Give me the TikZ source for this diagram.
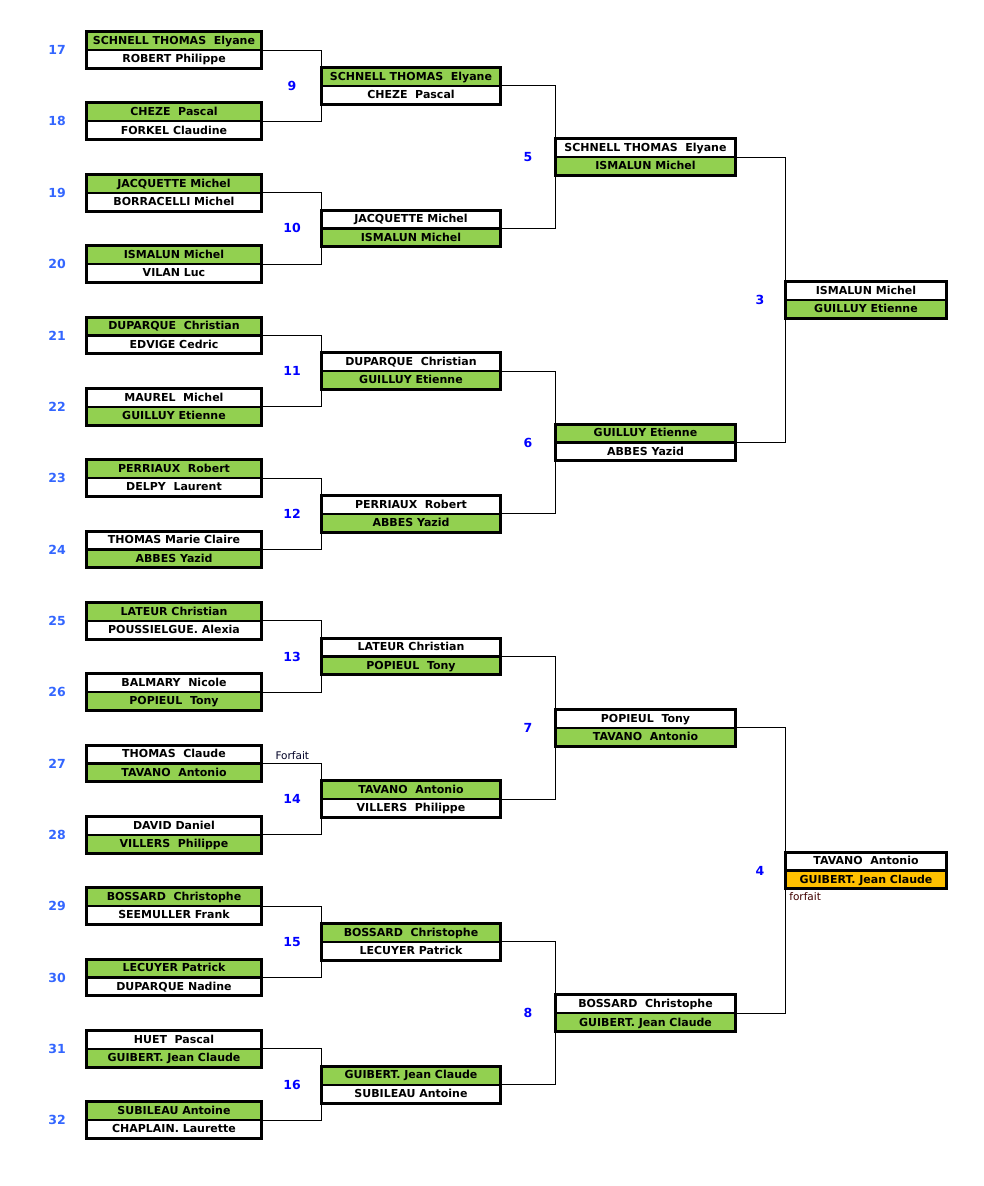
\documentclass[tikz,border=0pt]{standalone}
\usepackage{fontspec}
\setmainfont{DejaVu Sans}
\usepackage{xcolor}
\usepackage{tikz}
\usetikzlibrary{positioning,fit}

\definecolor{wingreen}{HTML}{92D050}
\definecolor{forfeit}{HTML}{FFC000}
\definecolor{seedblue}{HTML}{3366FF}
\definecolor{roundblue}{HTML}{0000FF}

% two-row match box: name, centre x, centre y, width, top text, top fill, bottom text, bottom fill
\newcommand{\matchbox}[8]{%
  \node[cell=#6, minimum width=#4pt, anchor=south] (#1t) at (#2,#3) {#5};
  \node[cell=#8, minimum width=#4pt, anchor=north] (#1b) at (#2,#3) {#7};
  \node[frame, fit=(#1t)(#1b)] (#1) {};
  \draw[sep] (#1t.south west) -- (#1t.south east);
}

\begin{document}
\begin{tikzpicture}[
  x=1pt, y=-1pt,
  cell/.style={fill=#1, minimum height=18pt, inner sep=0pt, text height=8pt, text depth=1pt, font=\fontsize{11}{12}\selectfont\bfseries},
  frame/.style={draw, line width=3pt, inner sep=0pt, outer sep=0pt},
  sep/.style={line width=2.2pt},
  link/.style={draw, line width=1pt},
  seed/.style={text=seedblue, font=\fontsize{12.5}{14}\selectfont\bfseries},
  rnd/.style={text=roundblue, font=\fontsize{12.5}{14}\selectfont\bfseries},
  note/.style={font=\fontsize{10.5}{12}\selectfont},
]
  \fill[white] (0,0) rectangle (984,1186);
  \useasboundingbox (0,0) rectangle (984,1186);

  % Round 1
  \matchbox{m17}{174}{50}{174}{SCHNELL THOMAS\ \ Elyane}{wingreen}{ROBERT Philippe}{white}
  \matchbox{m18}{174}{121.35}{174}{CHEZE\ \ Pascal}{wingreen}{FORKEL Claudine}{white}
  \matchbox{m19}{174}{192.7}{174}{JACQUETTE Michel}{wingreen}{BORRACELLI Michel}{white}
  \matchbox{m20}{174}{264.05}{174}{ISMALUN Michel}{wingreen}{VILAN Luc}{white}
  \matchbox{m21}{174}{335.4}{174}{DUPARQUE\ \ Christian}{wingreen}{EDVIGE Cedric}{white}
  \matchbox{m22}{174}{406.75}{174}{MAUREL\ \ Michel}{white}{GUILLUY Etienne}{wingreen}
  \matchbox{m23}{174}{478.1}{174}{PERRIAUX\ \ Robert}{wingreen}{DELPY\ \ Laurent}{white}
  \matchbox{m24}{174}{549.45}{174}{THOMAS Marie Claire}{white}{ABBES Yazid}{wingreen}
  \matchbox{m25}{174}{620.8}{174}{LATEUR Christian}{wingreen}{POUSSIELGUE. Alexia}{white}
  \matchbox{m26}{174}{692.15}{174}{BALMARY\ \ Nicole}{white}{POPIEUL\ \ Tony}{wingreen}
  \matchbox{m27}{174}{763.5}{174}{THOMAS\ \ Claude}{white}{TAVANO\ \ Antonio}{wingreen}
  \matchbox{m28}{174}{834.85}{174}{DAVID Daniel}{white}{VILLERS\ \ Philippe}{wingreen}
  \matchbox{m29}{174}{906.2}{174}{BOSSARD\ \ Christophe}{wingreen}{SEEMULLER Frank}{white}
  \matchbox{m30}{174}{977.55}{174}{LECUYER Patrick}{wingreen}{DUPARQUE Nadine}{white}
  \matchbox{m31}{174}{1048.9}{174}{HUET\ \ Pascal}{white}{GUIBERT. Jean Claude}{wingreen}
  \matchbox{m32}{174}{1120.25}{174}{SUBILEAU Antoine}{wingreen}{CHAPLAIN. Laurette}{white}

  % Round 2
  \matchbox{m9}{411}{85.7}{178}{SCHNELL THOMAS\ \ Elyane}{wingreen}{CHEZE\ \ Pascal}{white}
  \matchbox{m10}{411}{228.4}{178}{JACQUETTE Michel}{white}{ISMALUN Michel}{wingreen}
  \matchbox{m11}{411}{371.1}{178}{DUPARQUE\ \ Christian}{white}{GUILLUY Etienne}{wingreen}
  \matchbox{m12}{411}{513.8}{178}{PERRIAUX\ \ Robert}{white}{ABBES Yazid}{wingreen}
  \matchbox{m13}{411}{656.5}{178}{LATEUR Christian}{white}{POPIEUL\ \ Tony}{wingreen}
  \matchbox{m14}{411}{799.2}{178}{TAVANO\ \ Antonio}{wingreen}{VILLERS\ \ Philippe}{white}
  \matchbox{m15}{411}{941.9}{178}{BOSSARD\ \ Christophe}{wingreen}{LECUYER Patrick}{white}
  \matchbox{m16}{411}{1084.6}{178}{GUIBERT. Jean Claude}{wingreen}{SUBILEAU Antoine}{white}

  % Round 3
  \matchbox{m5}{645.5}{157}{179}{SCHNELL THOMAS\ \ Elyane}{white}{ISMALUN Michel}{wingreen}
  \matchbox{m6}{645.5}{442.5}{179}{GUILLUY Etienne}{wingreen}{ABBES Yazid}{white}
  \matchbox{m7}{645.5}{727.9}{179}{POPIEUL\ \ Tony}{white}{TAVANO\ \ Antonio}{wingreen}
  \matchbox{m8}{645.5}{1013.3}{179}{BOSSARD\ \ Christophe}{white}{GUIBERT. Jean Claude}{wingreen}

  % Round 4
  \matchbox{m3}{866}{299.7}{160}{ISMALUN Michel}{white}{GUILLUY Etienne}{wingreen}
  \matchbox{m4}{866}{870.5}{160}{TAVANO\ \ Antonio}{white}{GUIBERT. Jean Claude}{forfeit}

  % Links round 1 -> 2
  \draw[link] (m17.east) -| (m9.west) |- (m18.east);
  \draw[link] (m19.east) -| (m10.west) |- (m20.east);
  \draw[link] (m21.east) -| (m11.west) |- (m22.east);
  \draw[link] (m23.east) -| (m12.west) |- (m24.east);
  \draw[link] (m25.east) -| (m13.west) |- (m26.east);
  \draw[link] (m27.east) -| (m14.west) |- (m28.east);
  \draw[link] (m29.east) -| (m15.west) |- (m30.east);
  \draw[link] (m31.east) -| (m16.west) |- (m32.east);

  % Links round 2 -> 3
  \draw[link] (m9.east) -| (m5.west) |- (m10.east);
  \draw[link] (m11.east) -| (m6.west) |- (m12.east);
  \draw[link] (m13.east) -| (m7.west) |- (m14.east);
  \draw[link] (m15.east) -| (m8.west) |- (m16.east);

  % Links round 3 -> 4
  \draw[link] (m5.east) -| (m3.west) |- (m6.east);
  \draw[link] (m7.east) -| (m4.west) |- (m8.east);

  % Match numbers
  \node[seed] (l17) at (57,50) {17};
  \node[seed] (l18) at (57,121.35) {18};
  \node[seed] (l19) at (57,192.7) {19};
  \node[seed] (l20) at (57,264.05) {20};
  \node[seed] (l21) at (57,335.4) {21};
  \node[seed] (l22) at (57,406.75) {22};
  \node[seed] (l23) at (57,478.1) {23};
  \node[seed] (l24) at (57,549.45) {24};
  \node[seed] (l25) at (57,620.8) {25};
  \node[seed] (l26) at (57,692.15) {26};
  \node[seed] (l27) at (57,763.5) {27};
  \node[seed] (l28) at (57,834.85) {28};
  \node[seed] (l29) at (57,906.2) {29};
  \node[seed] (l30) at (57,977.55) {30};
  \node[seed] (l31) at (57,1048.9) {31};
  \node[seed] (l32) at (57,1120.25) {32};

  \node[rnd] (l9) at (292,85.7) {9};
  \node[rnd] (l10) at (292,228.4) {10};
  \node[rnd] (l11) at (292,371.1) {11};
  \node[rnd] (l12) at (292,513.8) {12};
  \node[rnd] (l13) at (292,656.5) {13};
  \node[rnd] (l14) at (292,799.2) {14};
  \node[rnd] (l15) at (292,941.9) {15};
  \node[rnd] (l16) at (292,1084.6) {16};

  \node[rnd] (l5) at (528,157) {5};
  \node[rnd] (l6) at (528,442.5) {6};
  \node[rnd] (l7) at (528,727.9) {7};
  \node[rnd] (l8) at (528,1013.3) {8};

  \node[rnd] (l3) at (760,299.7) {3};
  \node[rnd] (l4) at (760,870.5) {4};

  % Notes
  \node[note, text=black!85!blue, anchor=west] (f27) at (272,756) {Forfait};
  \node[note, text=black!75!red, anchor=north west] (f4) at (m4.south west) {forfait};
\end{tikzpicture}
\end{document}
